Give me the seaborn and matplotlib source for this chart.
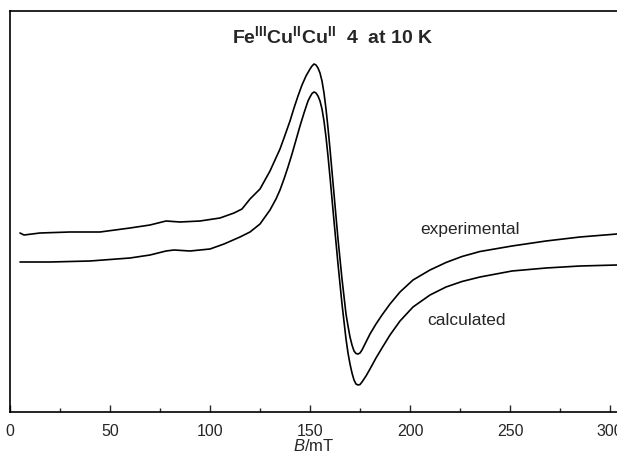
import matplotlib
matplotlib.use("Agg")
import matplotlib.pyplot as plt
import numpy as np
import pandas as pd
import seaborn as sns

# Field values (mT) and signal (arbitrary units)
B_exp = [5, 7, 15, 30, 45, 60, 70, 78, 85, 95, 105, 112, 116, 118, 120, 125,
         130, 135, 137, 140, 142, 144, 146, 148, 150, 151, 152, 153, 154, 155,
         156, 157, 158, 159, 160, 162, 164, 166, 168, 169, 170, 171, 172, 173,
         174, 175, 176, 178, 180, 183, 186, 190, 195, 201.5, 210, 218, 226, 235,
         251, 268, 285, 303.5]
I_exp = [179, 177, 179, 180, 180, 184, 187, 191, 190, 191, 194, 199, 203, 208,
         213, 223, 241, 263, 274, 291, 304, 316, 327, 336, 343, 346, 348, 347,
         344, 339, 331, 319, 303, 284, 263, 218, 173, 133, 98, 86, 75, 67, 61,
         58.5, 58, 59, 62, 70, 78, 88, 97, 108, 120, 132, 142, 149.5, 155.5,
         160.5, 166, 171, 175, 178]

B_calc = [5, 20, 40, 60, 70, 78, 82, 90, 100, 107, 115, 120, 125, 130, 133, 135,
          137, 139, 141, 143, 145, 147, 148, 149, 150, 151, 152, 153, 154, 155,
          156, 157, 158, 159, 160, 162, 164, 166, 168, 169, 170, 171, 172, 173,
          174, 175, 176, 178, 180, 183, 186, 190, 195, 201.5, 210, 218, 226, 235,
          251, 268, 285, 303.5]
I_calc = [150, 150, 151, 154, 157, 161, 162, 161, 163, 168, 175, 180, 188, 202,
          213, 222, 233, 245, 258, 272, 286, 299, 305, 311, 315, 318.5, 320, 319,
          316, 311, 303, 291, 275, 256, 235, 191, 148, 108, 73, 59, 48, 39, 32,
          28, 27, 27.5, 30, 36, 43, 54, 64, 77, 91, 105, 117, 125, 130.5, 135,
          141, 144, 146, 147]

x_ticks = [0, 50, 100, 150, 200, 250, 300]
title = r"Fe$^{\mathbf{III}}$Cu$^{\mathbf{II}}$Cu$^{\mathbf{II}}$  4  at 10 K"

df = pd.concat([
    pd.DataFrame({"B": B_exp, "I": I_exp, "kind": "experimental"}),
    pd.DataFrame({"B": B_calc, "I": I_calc, "kind": "calculated"}),
])

sns.set_style("white")
plt.rcParams["font.family"] = ["Liberation Sans", "DejaVu Sans"]
plt.rcParams["mathtext.fontset"] = "custom"
plt.rcParams["mathtext.rm"] = "Liberation Sans"
plt.rcParams["mathtext.it"] = "Liberation Sans:italic"
plt.rcParams["mathtext.bf"] = "Liberation Sans:bold"

W, H = 617, 460
fig = plt.figure(figsize=(W / 100, H / 100), dpi=100)
ax = fig.add_axes([10 / W, 1 - 413 / H, 1 - 10 / W, (413 - 12) / H])

sns.lineplot(data=df, x="B", y="I", units="kind", estimator=None, sort=False,
             color="black", linewidth=1.2, ax=ax, legend=False)

ax.set_xlim(0, 303.5)
ax.set_ylim(0, 401)
ax.set_xticks(x_ticks)
ax.set_xticks(np.arange(25, 300, 50), minor=True)
ax.set_yticks([])
ax.tick_params(axis="x", which="major", direction="in", length=5, width=1,
               labelsize=11.5, pad=8, bottom=True)
ax.tick_params(axis="x", which="minor", direction="in", length=3, width=1,
               bottom=True)
ax.spines["right"].set_visible(False)
for s in ["left", "top", "bottom"]:
    ax.spines[s].set_linewidth(1.2)
    ax.spines[s].set_color("black")

ax.set_xlabel(r"$\mathit{B}$/mT", fontsize=12, labelpad=-0.5)
ax.set_ylabel("")

fig.text(470 / W, 1 - 230 / H, "experimental", fontsize=12.5,
         ha="center", va="center")
fig.text(466 / W, 1 - 321 / H, "calculated", fontsize=12.5,
         ha="center", va="center")
fig.text(333 / W, 1 - 36 / H, title, fontsize=14, fontweight="bold",
         ha="center", va="center")

fig.savefig("out.png", dpi=100)
